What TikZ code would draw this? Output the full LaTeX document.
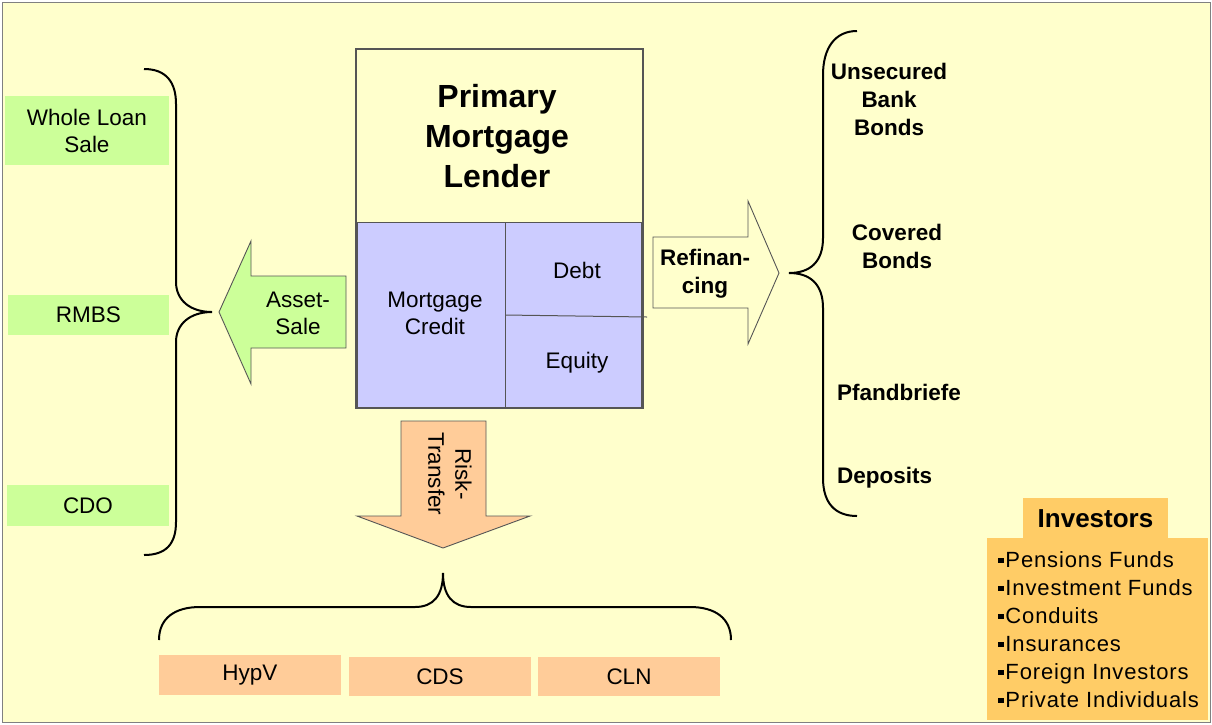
\documentclass[tikz,border=0pt]{standalone}
\usepackage{fontspec}
\setmainfont{Liberation Sans}
\definecolor{bg}{HTML}{FFFFCC}
\definecolor{grn}{HTML}{CCFF99}
\definecolor{blu}{HTML}{CCCCFF}
\definecolor{sal}{HTML}{FFCC99}
\definecolor{org}{HTML}{FFCC66}
\definecolor{edge}{HTML}{555555}
\newcommand{\sqbul}{\rule[0.2em]{0.25em}{0.25em}\hspace{0.08em}}
\begin{document}
\begin{tikzpicture}[x=1pt,y=-1pt,
  lbl/.style={font=\fontsize{22.5}{27}\selectfont, align=center, inner sep=0pt},
  bl/.style={font=\fontsize{22.5}{28}\selectfont\bfseries, align=center, inner sep=0pt},
  gbox/.style={fill=grn, draw=none, lbl},
  sbox/.style={fill=sal, draw=none, lbl},
  brace/.style={draw=black, line width=2pt},
  bigarrow/.style={draw=edge, line width=0.9pt, line join=miter},
]
\useasboundingbox (0,0) rectangle (1212,724);
\fill[white] (0,0) rectangle (1212,724);
\draw[fill=bg, draw=gray, line width=1pt] (2,2) rectangle (1210,722);

% left boxes
\node[gbox, minimum width=164, minimum height=69] (wls) at (87,130.5) {Whole Loan\\Sale};
\node[gbox, minimum width=161, minimum height=40] (rmbs) at (88.5,315) {RMBS};
\node[gbox, minimum width=162, minimum height=41] (cdo) at (88,505.5) {CDO};

% left brace
\draw[brace] (144,69) .. controls (166,69) and (176,82) .. (176,104) -- (176,282)
  .. controls (176,300) and (190,312) .. (212,312)
  .. controls (190,312) and (176,324) .. (176,342) -- (176,522)
  .. controls (176,544) and (166,555) .. (144,555);

% asset-sale arrow
\draw[bigarrow, fill=grn] (219,312) -- (251,241) -- (251,276) -- (346,276) -- (346,348) -- (251,348) -- (251,384) -- cycle;
\node[lbl] (asset) at (298,313.5) {Asset-\\Sale};

% main box
\draw[draw=edge, line width=1.3pt, fill=bg] (356,49) rectangle (643,408);
\node[font=\fontsize{32}{40}\selectfont\bfseries, align=center, inner sep=0pt] (pml) at (497,136) {Primary\\Mortgage\\Lender};
\draw[draw=edge, line width=1pt, fill=blu] (357,222) rectangle (641,407);
\draw[draw=edge, line width=1pt] (505,222) -- (505,407);
\draw[draw=edge, line width=1pt] (505,315) -- (647,317);
\node[lbl] (mc) at (435,313.5) {Mortgage\\Credit};
\node[lbl] (debt) at (577,270) {Debt};
\node[lbl] (eq) at (577,363) {Equity};

% refinancing arrow
\draw[bigarrow, fill=bg] (653,237) -- (748,237) -- (748,201) -- (779,273) -- (748,344) -- (748,308) -- (653,308) -- cycle;
\node[bl] (refi) at (705,274) {Refinan-\\cing};

% right brace
\draw[brace] (857,31) .. controls (835,31) and (823,48) .. (823,75) -- (823,238)
  .. controls (823,262) and (810,273) .. (789,273)
  .. controls (810,273) and (823,284) .. (823,308) -- (823,478)
  .. controls (823,503) and (835,516) .. (857,516);
\node[bl] (ubb) at (889,99.5) {Unsecured\\Bank\\Bonds};
\node[bl] (cb) at (897,246) {Covered\\Bonds};
\node[bl, anchor=west] (pf) at (837,392) {Pfandbriefe};
\node[bl, anchor=west] (dep) at (837,478) {Deposits};

% risk transfer arrow
\draw[bigarrow, fill=sal] (401,421) -- (486,421) -- (486,516) -- (530,516) -- (443,548) -- (357,516) -- (401,516) -- cycle;
\node[lbl, rotate=-90] (risk) at (450,474) {Risk-\\Transfer};

% bottom brace
\draw[brace] (159,640) .. controls (159,618) and (175,607) .. (200,607) -- (415,607)
  .. controls (433,607) and (443,596) .. (443,573)
  .. controls (443,596) and (453,607) .. (471,607) -- (690,607)
  .. controls (715,607) and (731,618) .. (731,640);

\node[sbox, minimum width=182, minimum height=40] (hypv) at (250,675) {HypV};
\node[sbox, minimum width=182, minimum height=39] (cds) at (440,676.5) {CDS};
\node[sbox, minimum width=182, minimum height=39] (cln) at (629,676.5) {CLN};

% investors
\node[fill=org, minimum width=221, minimum height=182, inner sep=0pt] (invbody) at (1097.5,629) {};
\node[fill=org, minimum width=145, minimum height=42, inner sep=0pt, font=\fontsize{26}{30}\selectfont\bfseries] (invtitle) at (1095.5,519) {Investors};
\node[font=\fontsize{22}{28}\selectfont\addfontfeature{LetterSpace=4}, align=left, anchor=west, inner sep=0pt] (invlist) at (998,630)
 {\sqbul Pensions Funds\\\sqbul Investment Funds\\\sqbul Conduits\\\sqbul Insurances\\\sqbul Foreign Investors\\\sqbul Private Individuals};
\end{tikzpicture}
\end{document}
